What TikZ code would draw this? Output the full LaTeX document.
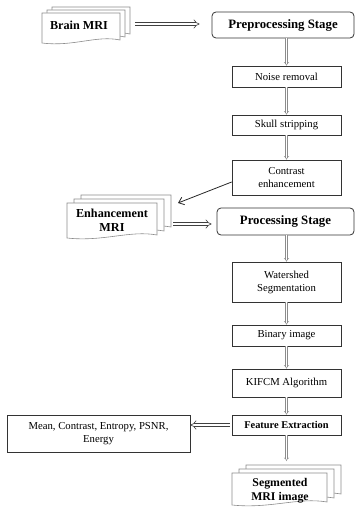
\documentclass[tikz,border=0pt]{standalone}
\usepackage{fontspec}
\setmainfont{Liberation Serif}
\usetikzlibrary{arrows.meta}

% one page of a document stack (x1,y1,x2,y2), wavy bottom
\newcommand{\docpage}[4]{%
  \pgfmathsetmacro\docw{(#3)-(#1)}%
  \filldraw[docline] (#1,#2) -- (#3,#2) -- (#3,{#4-3})
    .. controls ({#3-0.3*\docw},{#4-8}) and ({#1+0.4*\docw},{#4+4}) .. (#1,#4) -- cycle;}
% three pages, back ones shifted by (dx,-dy)
\newcommand{\docstack}[6]{%
  \docpage{#1+2*#5}{#2-2*#6}{#3+2*#5}{#4-2*#6}%
  \docpage{#1+#5}{#2-#6}{#3+#5}{#4-#6}%
  \docpage{#1}{#2}{#3}{#4}}

\begin{document}
\begin{tikzpicture}[x=1pt,y=-1pt,
  docline/.style={draw=black!45, fill=white, line width=0.6pt},
  doctext/.style={inner sep=0pt, align=center, font=\bfseries\fontsize{12.2}{14.5}\selectfont},
  box/.style={draw=black!80, line width=0.7pt, minimum width=109, align=center,
    font=\fontsize{10.7}{13}\selectfont},
  stage/.style={draw=black!80, line width=0.8pt, rounded corners=4pt,
    font=\bfseries\fontsize{12.8}{15}\selectfont},
  varrow/.style={draw=black!45, line width=0.4pt, double=white, double distance=1.4pt, -Implies},
  bigarrow/.style={draw=black!75, line width=0.6pt, double=white, double distance=2.6pt, -Implies},
  thinarrow/.style={draw=black!85, line width=0.8pt, -{Straight Barb[length=5pt,width=8pt]}}]
\useasboundingbox (0,0) rectangle (355,508);

% Document stacks
\docstack{42}{13}{120}{43}{5}{3}
\docstack{67}{203}{157}{238}{7}{4}
\docstack{232}{473}{327}{505}{7}{4}

\node[doctext] (brain) at (79,25) {Brain MRI};
\node[doctext] (enh) at (112,220.5) {Enhancement\\MRI};
\node[doctext, font=\bfseries\fontsize{11.8}{14}\selectfont] (seg) at (280,491) {Segmented\\MRI image};

% Stages and steps
\node[stage, minimum width=142, minimum height=26] (pre) at (283,25) {Preprocessing Stage};
\node[box, minimum height=21] (noise) at (286.5,76.5) {Noise removal};
\node[box, minimum height=20] (skull) at (286.5,125) {Skull stripping};
\node[box, minimum height=35] (contrast) at (286.5,177.5) {Contrast\\enhancement};
\node[stage, minimum width=137, minimum height=27] (proc) at (285.5,221.5) {Processing Stage};
\node[box, minimum height=40] (water) at (286.5,282) {Watershed\\Segmentation};
\node[box, minimum height=21] (binary) at (286.5,335.5) {Binary image};
\node[box, minimum height=28] (kifcm) at (286.5,383) {KIFCM Algorithm};
\node[box, minimum height=20, font=\bfseries\fontsize{10.4}{13}\selectfont] (feat) at (286.5,425) {Feature Extraction};
\node[box, minimum width=183, minimum height=37] (mean) at (98.5,433.5) {Mean, Contrast, Entropy, PSNR,\\Energy};

% Free ends at the document stacks
\coordinate (brainout) at (135,24);
\coordinate (enhin) at (178,203);
\coordinate (enhout) at (173,224);
\coordinate (segin) at (281,461);

% Connectors
\draw[bigarrow, shorten >=12pt] (brainout) -- (brainout -| pre.west);
\draw[varrow] (noise.north |- pre.south) -- (noise.north);
\draw[varrow] (noise) -- (skull);
\draw[varrow] (skull) -- (contrast);
\draw[thinarrow] ([yshift=-4.5pt]contrast.west) -- (enhin);
\draw[bigarrow, shorten >=5pt] (enhout) -- (enhout -| proc.west);
\draw[varrow] (water.north |- proc.south) -- (water.north);
\draw[varrow] (water) -- (binary);
\draw[varrow] (binary) -- (kifcm);
\draw[varrow] (kifcm) -- (feat);
\draw[bigarrow, shorten <=2pt] (feat.west) -- (feat.west -| mean.east);
\draw[varrow] (feat.south) -- (feat.south |- segin);
\end{tikzpicture}
\end{document}
